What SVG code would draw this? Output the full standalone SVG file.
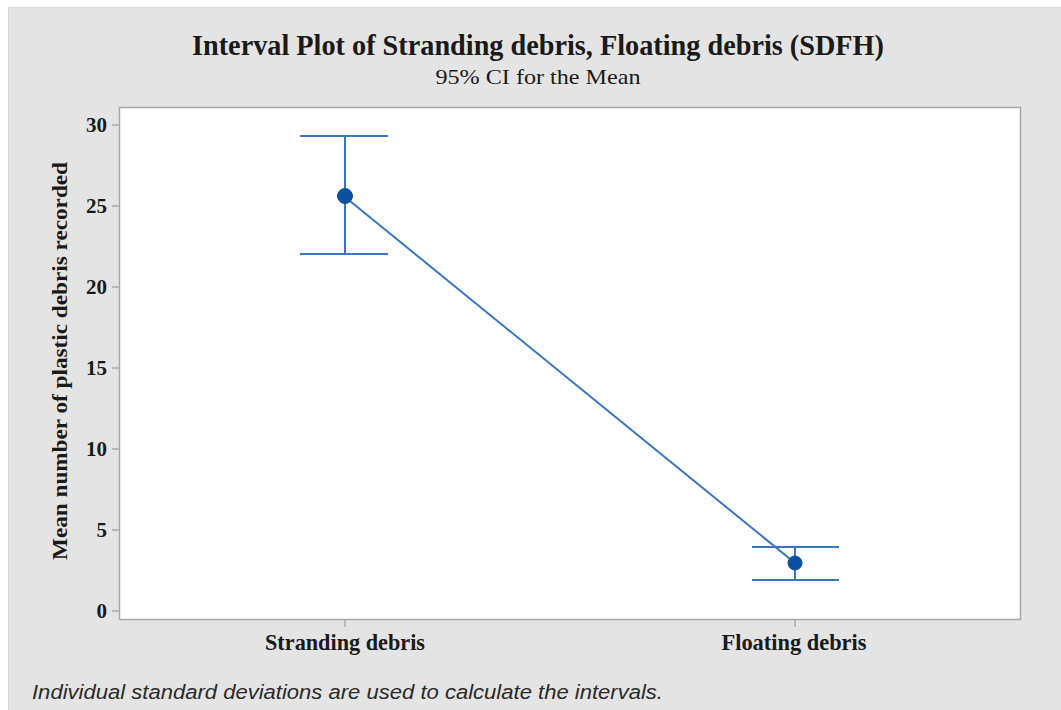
<svg xmlns="http://www.w3.org/2000/svg" width="1061" height="710" viewBox="0 0 1061 710">
<style>
.bg{fill:#e4e4e4;stroke:#d6d6d6;stroke-width:1}
.frame{fill:#ffffff;stroke:#a8a8a8;stroke-width:1.5}
.tick{stroke:#8c8c8c;stroke-width:1}
.ser{font-family:"Liberation Serif","Times New Roman",serif;fill:#1a1a1a}
.b{font-weight:bold}
.ytl{font-size:21px;font-weight:bold;text-anchor:end}
.xtl{font-size:23px;font-weight:bold;text-anchor:middle}
.bar{stroke:#3a76bf;stroke-width:2;fill:none}
.conn{stroke:#3a76bf;stroke-width:2;fill:none}
.pt{fill:#0b4f9f;stroke:#0b4f9f;stroke-width:1}
.note{font-family:"Liberation Sans",Arial,sans-serif;font-style:italic;font-size:20px;fill:#2a2a2a}
</style>
<rect x="0" y="0" width="1061" height="710" fill="#ffffff"/>
<rect class="bg" x="8.5" y="7.5" width="1060" height="710"/>
<g id="title">
<text class="ser b" x="538" y="55" font-size="30" text-anchor="middle" textLength="692" lengthAdjust="spacingAndGlyphs">Interval Plot of Stranding debris, Floating debris (SDFH)</text>
<text class="ser" x="538" y="84" font-size="21" text-anchor="middle" textLength="205" lengthAdjust="spacingAndGlyphs">95% CI for the Mean</text>
</g>
<g id="plot-frame">
<rect class="frame" x="119.5" y="107.5" width="901" height="512"/>
</g>
<g id="y-axis">
<line class="tick" x1="112" y1="125" x2="119" y2="125"/>
<line class="tick" x1="112" y1="206" x2="119" y2="206"/>
<line class="tick" x1="112" y1="287" x2="119" y2="287"/>
<line class="tick" x1="112" y1="368" x2="119" y2="368"/>
<line class="tick" x1="112" y1="449" x2="119" y2="449"/>
<line class="tick" x1="112" y1="530" x2="119" y2="530"/>
<line class="tick" x1="112" y1="611" x2="119" y2="611"/>
<text class="ser ytl" x="107" y="132">30</text>
<text class="ser ytl" x="107" y="213">25</text>
<text class="ser ytl" x="107" y="294">20</text>
<text class="ser ytl" x="107" y="375">15</text>
<text class="ser ytl" x="107" y="456">10</text>
<text class="ser ytl" x="107" y="537">5</text>
<text class="ser ytl" x="107" y="618">0</text>
<text class="ser b" transform="translate(67,361) rotate(-90)" font-size="22" text-anchor="middle" textLength="398" lengthAdjust="spacingAndGlyphs">Mean number of plastic debris recorded</text>
</g>
<g id="x-axis">
<line class="tick" x1="345" y1="620" x2="345" y2="627"/>
<line class="tick" x1="795" y1="620" x2="795" y2="627"/>
<text class="ser xtl" x="345" y="650" textLength="160" lengthAdjust="spacingAndGlyphs">Stranding debris</text>
<text class="ser xtl" x="794" y="650" textLength="145" lengthAdjust="spacingAndGlyphs">Floating debris</text>
</g>
<g id="connectors">
<line class="conn" x1="345" y1="197" x2="795" y2="563"/>
</g>
<g id="stranding-debris">
<line class="bar" x1="345" y1="136" x2="345" y2="254"/>
<line class="bar" x1="300" y1="136" x2="388" y2="136"/>
<line class="bar" x1="300" y1="254" x2="388" y2="254" stroke-width="2.5"/>
<circle class="pt" cx="345" cy="196" r="7.5"/>
</g>
<g id="floating-debris">
<line class="bar" x1="795" y1="547" x2="795" y2="580"/>
<line class="bar" x1="752" y1="547" x2="839" y2="547"/>
<line class="bar" x1="752" y1="580" x2="839" y2="580"/>
<circle class="pt" cx="795" cy="563" r="7"/>
</g>
<g id="footnote">
<text class="note" x="32" y="699" textLength="631" lengthAdjust="spacingAndGlyphs">Individual standard deviations are used to calculate the intervals.</text>
</g>
</svg>
